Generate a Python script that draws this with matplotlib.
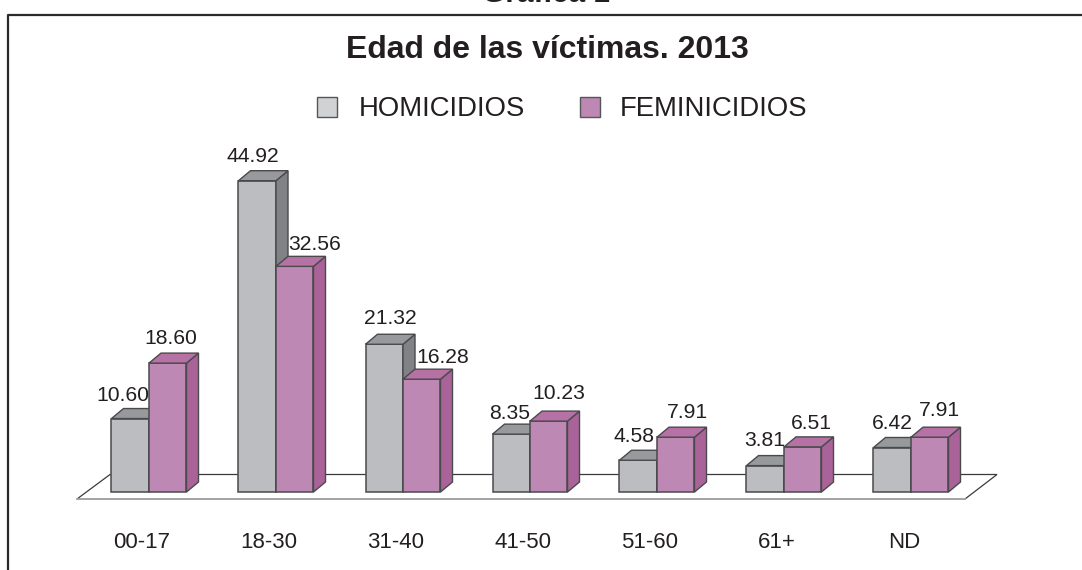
import matplotlib
matplotlib.use("Agg")
import matplotlib.pyplot as plt
from matplotlib.patches import Polygon, Rectangle

plt.rcParams["font.family"] = ["Liberation Sans", "DejaVu Sans"]

categories = ["00-17", "18-30", "31-40", "41-50", "51-60", "61+", "ND"]
homicidios = [10.60, 44.92, 21.32, 8.35, 4.58, 3.81, 6.42]
feminicidios = [18.60, 32.56, 16.28, 10.23, 7.91, 6.51, 7.91]

# label nudges from bar centre, pixels
hom_dx = [-7, -4, 6, -2, -4, -1, 0]
hom_dy = [23, 24, 26, 21, 24, 25, 24]
fem_dx = [3, 20, 21, 10, 12, 9, 10]
fem_dy = [25, 22, 22, 28, 25, 23, 27]

W, H = 1082, 570
PX_X = 127.0  # px per category
PX_Y = 6.93  # px per percent
X0, Y0 = 149, 492  # first group centre, baseline
BAR = 37.5 / PX_X
DX = 12 / PX_X
DY = 10 / PX_Y

GRAY = ("#bcbdc0", "#818285", "#98999c")
PURPLE = ("#bd88b3", "#a96398", "#b672a5")
EDGE = "#4a4a4d"
TEXT = "#231f20"

fig = plt.figure(figsize=(W / 100, H / 100), dpi=100)
fig.patch.set_facecolor("white")

# pixel axes for frame, floor, title, legend
bg = fig.add_axes([0, 0, 1, 1])
bg.set_xlim(0, W)
bg.set_ylim(H, 0)
bg.axis("off")

# frame only has left and top sides
bg.plot([8, 8, W + 5], [H + 5, 14.5, 14.5], color="#2b2b2b", lw=1.6)
bg.add_patch(Polygon([(77, 499), (965, 499), (997, 474.5), (110, 474.5)], closed=True,
                     facecolor="white", edgecolor="#3a3a3c", lw=0.9))
bg.plot([77, 965], [499, 499], color="#a8a9ab", lw=1.3)

bg.text(546, 2, "Gráfica 1", ha="center", va="baseline", fontsize=21.5, fontweight="bold",
        color=TEXT)
bg.text(547, 50, "Edad de las víctimas. 2013", ha="center", va="center", fontsize=23,
        fontweight="bold", color=TEXT)

bg.add_patch(Rectangle((316.5, 96.5), 20, 20, facecolor="#d1d2d4", edgecolor="#55565a", lw=1))
bg.text(359, 109, "HOMICIDIOS", ha="left", va="center", fontsize=19.8, color=TEXT)
bg.add_patch(Rectangle((579.5, 96.5), 20, 20, facecolor="#bd88b3", edgecolor="#55565a", lw=1))
bg.text(620, 109, "FEMINICIDIOS", ha="left", va="center", fontsize=19.8, color=TEXT)

# data axes
ax = fig.add_axes([0, 0, 1, 1])
ax.patch.set_alpha(0)
ax.set_xlim(-X0 / PX_X, (W - X0) / PX_X)
ax.set_ylim(-(H - Y0) / PX_Y, Y0 / PX_Y)
ax.axis("off")


def bar3d(x, h, colors):
    ax.bar(x, h, BAR, align="edge", color=colors[0], edgecolor=EDGE, lw=1.1, zorder=3)
    side = [(x + BAR, 0), (x + BAR + DX, DY), (x + BAR + DX, h + DY), (x + BAR, h)]
    top = [(x, h), (x + DX, h + DY), (x + BAR + DX, h + DY), (x + BAR, h)]
    ax.add_patch(Polygon(side, closed=True, facecolor=colors[1], edgecolor=EDGE, lw=1, zorder=3))
    ax.add_patch(Polygon(top, closed=True, facecolor=colors[2], edgecolor=EDGE, lw=1, zorder=3))


def value_label(x, h, dx, dy):
    ax.annotate(f"{h:.2f}", (x + BAR / 2, h), xytext=(dx * 0.72, dy * 0.72),
                textcoords="offset points", ha="center", va="center",
                fontsize=15.2, color=TEXT, zorder=6)


for i, name in enumerate(categories):
    bar3d(i - BAR, homicidios[i], GRAY)
    bar3d(i, feminicidios[i], PURPLE)
    value_label(i - BAR, homicidios[i], hom_dx[i], hom_dy[i])
    value_label(i, feminicidios[i], fem_dx[i], fem_dy[i])
    ax.annotate(name, (i, 0), xytext=(-7 * 0.72, -51 * 0.72), textcoords="offset points",
                ha="center", va="center", fontsize=16, color=TEXT)

fig.savefig("out.png", dpi=100)
